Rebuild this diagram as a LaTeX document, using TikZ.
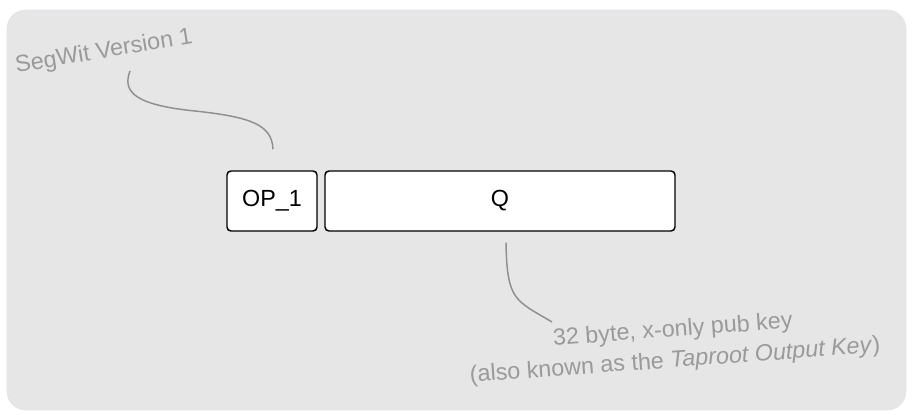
\documentclass[tikz,border=0pt]{standalone}
\usepackage{fontspec}
\setmainfont{Liberation Sans}
\usetikzlibrary{
    positioning
}
\definecolor{panelgray}{HTML}{E6E6E6}
\definecolor{panelrim}{HTML}{E4E2EE}
\definecolor{notegray}{HTML}{9A9A9A}
\definecolor{curvegray}{HTML}{8F8F8F}

\begin{document}
\begin{tikzpicture} [x=0.75pt,y=0.75pt,
    field/.style={draw,line width=1.1pt,rounded corners=3pt,fill=white,
        minimum height=45pt,inner sep=0pt,font=\fontsize{17.5}{20}\selectfont},
    note/.style={text=notegray,align=center,font=\fontsize{17.5}{23}\selectfont},
    callout/.style={draw=curvegray,line width=1.1pt}]
    \useasboundingbox (0,0) rectangle (916,414);
    \draw[fill=panelgray,draw=panelrim,rounded corners=14pt] (7,4) rectangle (906,404);

    \node[field,minimum width=67.5pt] (op) at (272,213) {OP\_1};
    \node[field,minimum width=262.5pt] (q) at (500,213) {Q};

    \node[note,rotate=9.5] (ver) at (104,362) {SegWit Version 1};
    \node[note,rotate=4.2] (key) at (674,68) {32 byte, x-only pub key\\(also known as the \textit{Taproot Output Key})};

    \draw[callout] ([shift={(26,-19)}]ver.center) .. controls +(-8,-21) and +(-60,6) .. (195,303)
        .. controls +(55,-6) and +(-1,25) .. ([shift={(1,21)}]op.north);
    \draw[callout] ([shift={(6,-11)}]q.south) .. controls +(1,-58) and +(-37,22) .. ([shift={(-122,24)}]key.center);
\end{tikzpicture}
\end{document}
